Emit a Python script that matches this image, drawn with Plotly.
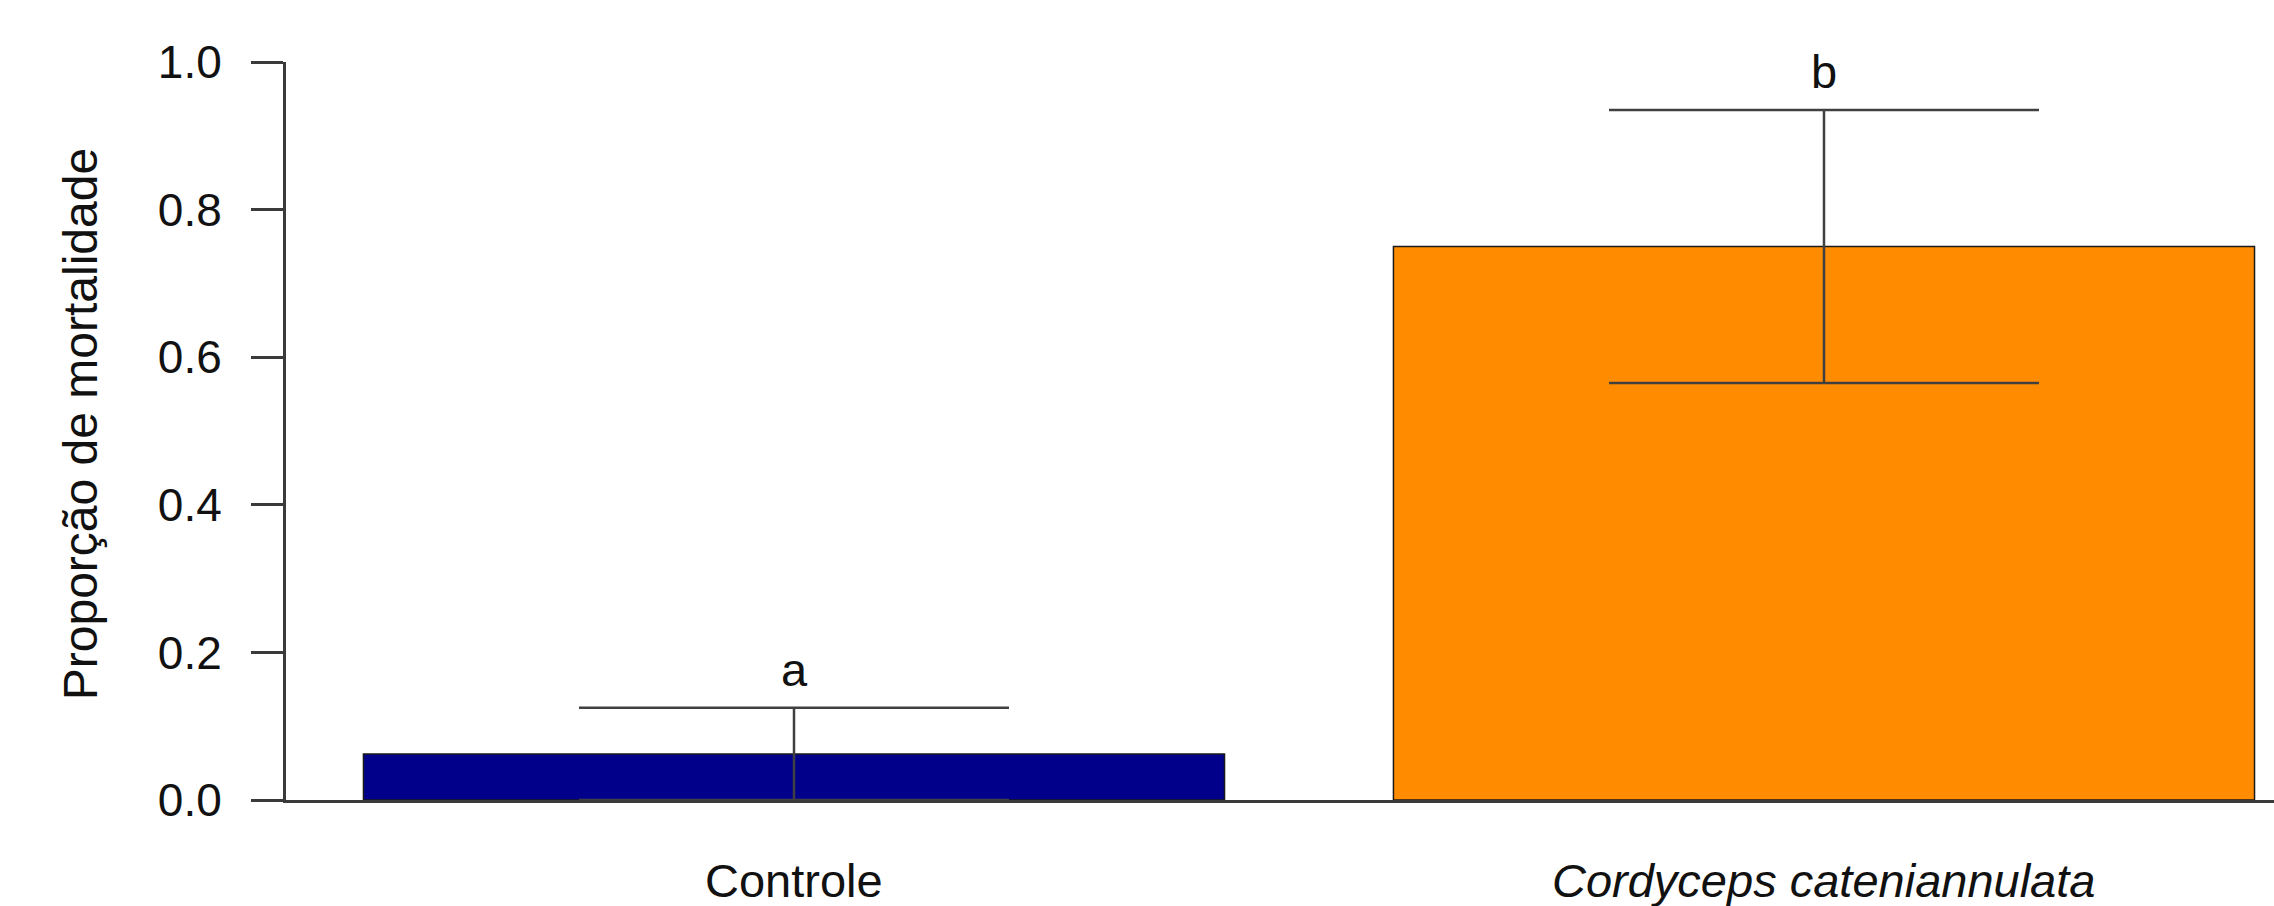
import plotly.graph_objects as go

# Treatments, mean mortality proportion and error half-widths
categories = ["Controle", "<i>Cordyceps cateniannulata</i>"]
means = [0.0625, 0.75]
errors = [0.0625, 0.185]
letters = ["a", "b"]
bar_colors = ["#00008B", "#FF8C00"]
y_ticks = [0.0, 0.2, 0.4, 0.6, 0.8, 1.0]

x_pos = list(range(len(categories)))
FONT = "Liberation Sans, Arial, sans-serif"
AXIS_COLOR = "#3a3a3a"

fig = go.Figure()
fig.add_trace(go.Bar(
    x=x_pos,
    y=means,
    width=0.836,
    marker=dict(color=bar_colors, line=dict(color="#1a1a1a", width=1.5)),
    error_y=dict(type="data", array=errors, visible=True,
                 color="#404040", thickness=2.5, width=215),
    showlegend=False,
))

# significance letters above the error bars
for xi, m, e, lab in zip(x_pos, means, errors, letters):
    fig.add_annotation(x=xi, y=m + e, text=lab, showarrow=False,
                       xref="x", yref="y", yanchor="bottom", yshift=10,
                       font=dict(family=FONT, size=47, color="#111"))

# category labels under the axis
for xi, cat in zip(x_pos, categories):
    fig.add_annotation(x=xi, y=0, text=cat, showarrow=False,
                       xref="x", yref="y", yanchor="top", yshift=-52,
                       font=dict(family=FONT, size=47, color="#111"))

# y-axis title
fig.add_annotation(x=-0.103, y=0.5095, xref="paper", yref="paper",
                   text="Proporção de mortalidade", textangle=-90,
                   showarrow=False, xanchor="center", yanchor="middle",
                   font=dict(family=FONT, size=48, color="#111"))

fig.update_layout(
    width=2274, height=906,
    margin=dict(l=286, r=0, t=62, b=106),
    paper_bgcolor="white", plot_bgcolor="white",
    font=dict(family=FONT, color="#111"),
    xaxis=dict(range=[-0.4932, 1.4369], showgrid=False, zeroline=False,
               showticklabels=False, ticks="",
               showline=True, linecolor=AXIS_COLOR, linewidth=3),
    yaxis=dict(range=[0, 1], tickvals=y_ticks,
               ticktext=[f"{v:.1f}" for v in y_ticks],
               showgrid=False, zeroline=False,
               showline=True, linecolor=AXIS_COLOR, linewidth=3,
               ticks="outside", ticklen=32, tickwidth=3, tickcolor=AXIS_COLOR,
               ticklabelstandoff=20,
               tickfont=dict(family=FONT, size=46, color="#111")),
)

fig.write_html("out.html")
